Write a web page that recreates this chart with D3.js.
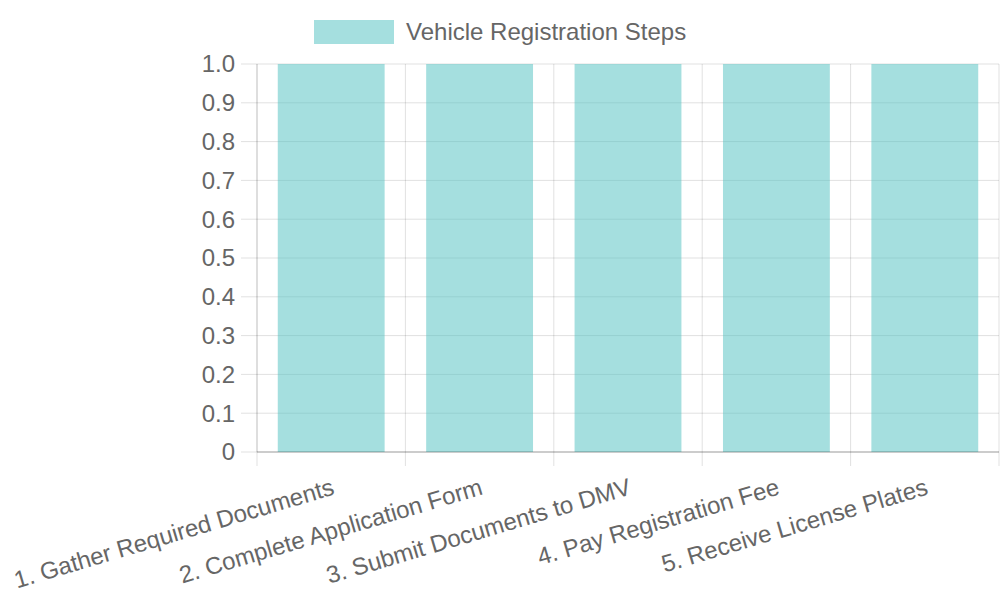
<!DOCTYPE html>
<html><head><meta charset="utf-8">
<script src="https://cdn.jsdelivr.net/npm/d3@7"></script>
<style>body{margin:0;background:#fff;font-family:"Liberation Sans",Arial,sans-serif}</style>
</head><body><svg id="c" width="1000" height="600"></svg>
<script>
const categories = ["1. Gather Required Documents","2. Complete Application Form","3. Submit Documents to DMV","4. Pay Registration Fee","5. Receive License Plates"];
const values = [1,1,1,1,1];
const seriesName = "Vehicle Registration Steps";
const yTicks = [0,0.1,0.2,0.3,0.4,0.5,0.6,0.7,0.8,0.9,1.0];

const svg = d3.select("#c");
const L = 257, R = 999, T = 64, B = 452;
const x = d3.scaleBand().domain(categories).range([L, R]).paddingInner(0).paddingOuter(0);
const y = d3.scaleLinear().domain([0, 1]).range([B, T]);
const grid = "rgba(0,0,0,0.12)";
const fontColor = "#666";

svg.append("g").selectAll("line").data(yTicks).join("line")
  .attr("x1", L - 16).attr("x2", R)
  .attr("y1", d => y(d)).attr("y2", d => y(d))
  .attr("stroke", grid).attr("stroke-width", 1);
const xEdges = categories.map(c => x(c)).concat([R]);
svg.append("g").selectAll("line").data(xEdges).join("line")
  .attr("x1", d => d).attr("x2", d => d)
  .attr("y1", T).attr("y2", B + 14)
  .attr("stroke", grid).attr("stroke-width", 1);

const bw = x.bandwidth() * 0.72;
svg.append("g").selectAll("rect").data(values).join("rect")
  .attr("x", (d, i) => x(categories[i]) + (x.bandwidth() - bw) / 2)
  .attr("width", bw)
  .attr("y", d => y(d)).attr("height", d => B - y(d))
  .attr("fill", "rgba(75,192,192,0.5)");

svg.append("line").attr("x1", L).attr("x2", L).attr("y1", T).attr("y2", B)
  .attr("stroke", "rgba(0,0,0,0.15)");
svg.append("line").attr("x1", L).attr("x2", R).attr("y1", B).attr("y2", B)
  .attr("stroke", "rgba(0,0,0,0.2)").attr("stroke-width", 1.5);

svg.append("g").selectAll("text").data(yTicks).join("text")
  .attr("x", L - 22).attr("y", d => y(d)).attr("dy", "0.35em")
  .attr("text-anchor", "end").attr("fill", fontColor).attr("font-size", 24)
  .text(d => d === 0 ? "0" : d3.format(".1f")(d));

svg.append("g").selectAll("text").data(categories).join("text")
  .attr("transform", d => `translate(${x(d) + x.bandwidth() / 2 + 2},${B + 34}) rotate(-16.5)`)
  .attr("text-anchor", "end").attr("dy", "0.35em")
  .attr("fill", fontColor).attr("font-size", 24)
  .text(d => d);

svg.append("rect").attr("x", 314).attr("y", 20).attr("width", 80).attr("height", 24)
  .attr("fill", "rgba(75,192,192,0.5)");
svg.append("text").attr("x", 406).attr("y", 32).attr("dy", "0.35em")
  .attr("fill", fontColor).attr("font-size", 24).text(seriesName);
</script></body></html>
